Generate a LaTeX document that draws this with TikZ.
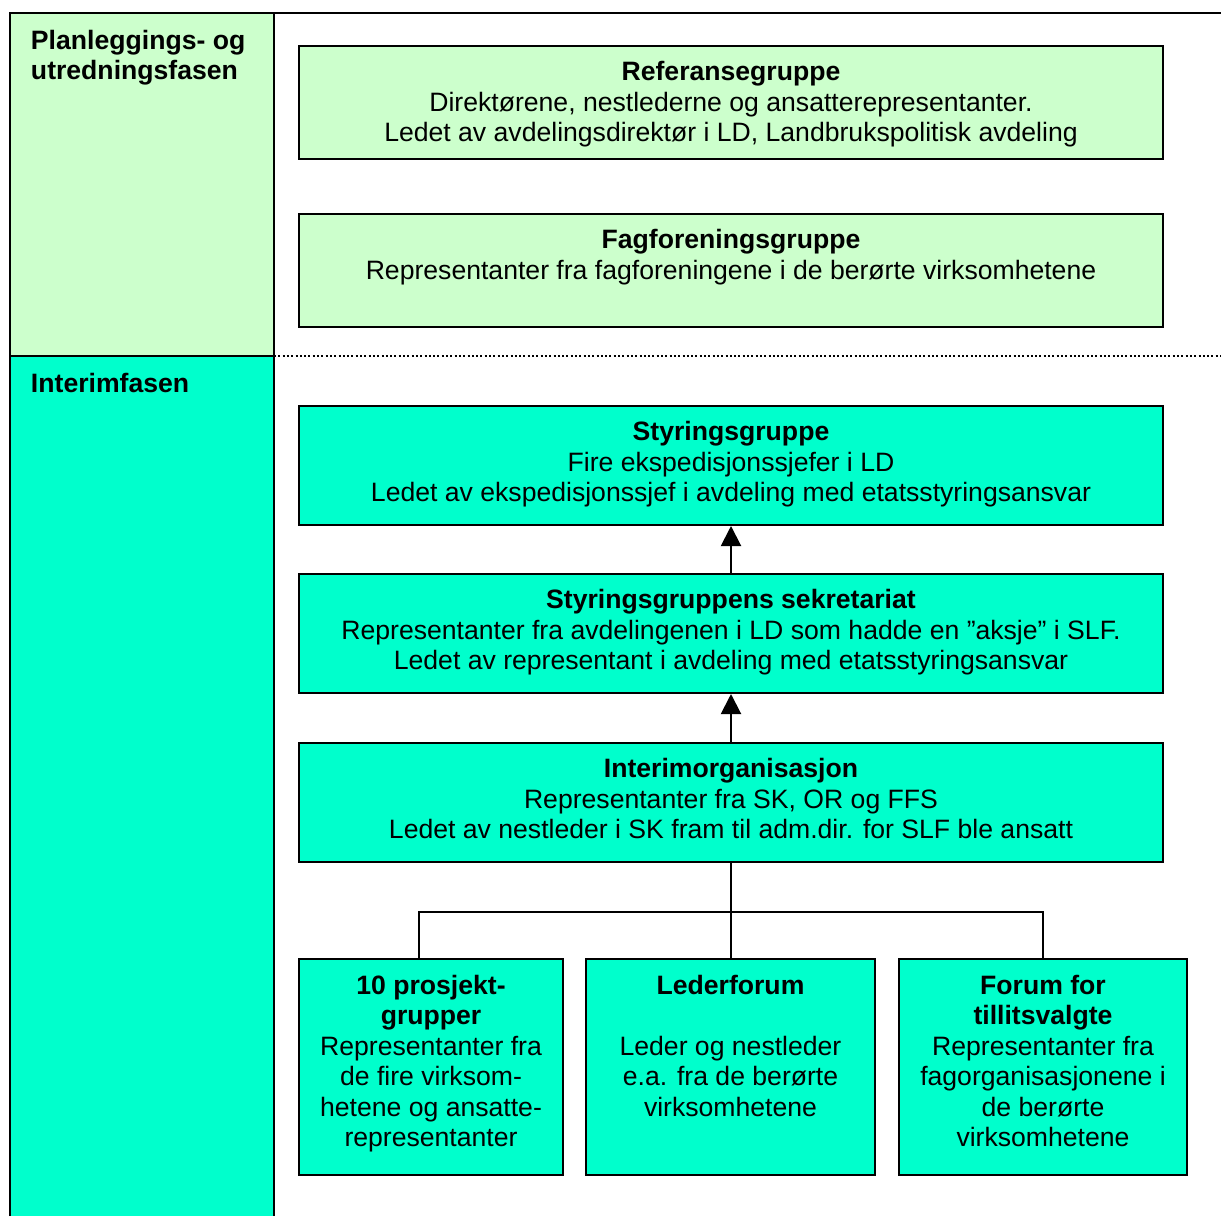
\documentclass[tikz,border=0pt]{standalone}
\usepackage{fontspec}
\setmainfont{Liberation Sans}
\usepackage{xcolor}
\usepackage{tikz}
\usetikzlibrary{arrows.meta}

\definecolor{planfill}{HTML}{CCFFCC}
\definecolor{interimfill}{HTML}{00FFCC}

\begin{document}
\begin{tikzpicture}[x=0.5pt, y=-0.5pt, line width=1pt,
    box/.style={draw, anchor=north west, inner sep=0pt},
    plan/.style={box, fill=planfill, minimum width=432pt, minimum height=56.5pt},
    interim/.style={box, fill=interimfill, minimum width=432pt, minimum height=59.5pt},
    small/.style={box, fill=interimfill, minimum height=108pt},
    txt/.style={anchor=north, align=center, inner sep=0pt, font=\fontsize{13.3}{15.25}\selectfont},
    fase/.style={txt, anchor=north west, align=left, font=\fontsize{13.3}{15.25}\selectfont\bfseries},
    pil/.style={-{Triangle[width=10pt,length=10pt]}}]
    \useasboundingbox (0,0) rectangle (1221,1216);

    % phase column
    \fill[planfill] (10,13) rectangle (274,356);
    \fill[interimfill] (10,356) rectangle (274,1216);
    \draw (10,1216) -- (10,13) -- (1221,13);
    \draw (274,13) -- (274,1216);
    \draw (10,356) -- (274,356);
    \draw[line width=0.8pt, dash pattern=on 1pt off 1.15pt] (274,356) -- (1221,356);
    \node[fase] (plantxt) at (30,29) {Planleggings- og\\utredningsfasen};
    \node[fase] (interimtxt) at (30,372) {Interimfasen};

    % planning boxes
    \node[plan] (ref) at (298,45) {};
    \node[txt] (reftxt) at ([yshift=-7.7pt]ref.north) {\textbf{Referansegruppe}\\Direktørene, nestlederne og ansatterepresentanter.\\Ledet av avdelingsdirektør i LD, Landbrukspolitisk avdeling};
    \node[plan] (fag) at (298,213) {};
    \node[txt] (fagtxt) at ([yshift=-7.7pt]fag.north) {\textbf{Fagforeningsgruppe}\\Representanter fra fagforeningene i de berørte virksomhetene};

    % interim boxes
    \node[interim] (sg) at (298,405) {};
    \node[txt] (sgtxt) at ([yshift=-7.7pt]sg.north) {\textbf{Styringsgruppe}\\Fire ekspedisjonssjefer i LD\\Ledet av ekspedisjonssjef i avdeling med etatsstyringsansvar};
    \node[interim] (sek) at (298,573) {};
    \node[txt] (sektxt) at ([yshift=-7.7pt]sek.north) {\textbf{Styringsgruppens sekretariat}\\Representanter fra avdelingenen i LD som hadde en ”aksje” i SLF.\\Ledet av representant i avdeling med etatsstyringsansvar};
    \node[interim] (io) at (298,742) {};
    \node[txt] (iotxt) at ([yshift=-7.7pt]io.north) {\textbf{Interimorganisasjon}\\Representanter fra SK, OR og FFS\\Ledet av nestleder i SK fram til adm.dir. for SLF ble ansatt};

    \node[small, minimum width=132pt] (pg) at (298,958) {};
    \node[txt] (pgtxt) at ([yshift=-8pt]pg.north) {\textbf{10 prosjekt-}\\\textbf{grupper}\\Representanter fra\\de fire virksom-\\hetene og ansatte-\\representanter};
    \node[small, minimum width=144.5pt] (lf) at (585,958) {};
    \node[txt] (lftxt) at ([yshift=-8pt]lf.north) {\textbf{Lederforum}\\[15.25pt]Leder og nestleder\\e.a. fra de berørte\\virksomhetene};
    \node[small, minimum width=144pt] (ft) at (898,958) {};
    \node[txt] (fttxt) at ([yshift=-8pt]ft.north) {\textbf{Forum for}\\\textbf{tillitsvalgte}\\Representanter fra\\fagorganisasjonene i\\de berørte\\virksomhetene};

    % connectors
    \draw[pil] (sek.north) -- (sg.south);
    \draw[pil] (io.north) -- (sek.south);
    \coordinate (fork) at ([yshift=-24.5pt]io.south);
    \draw (io.south) -- (fork);
    \draw (fork) -| ([xshift=-6pt]pg.north);
    \draw (fork) -| (ft.north);
    \draw (fork) -- (fork |- lf.north);
\end{tikzpicture}
\end{document}
